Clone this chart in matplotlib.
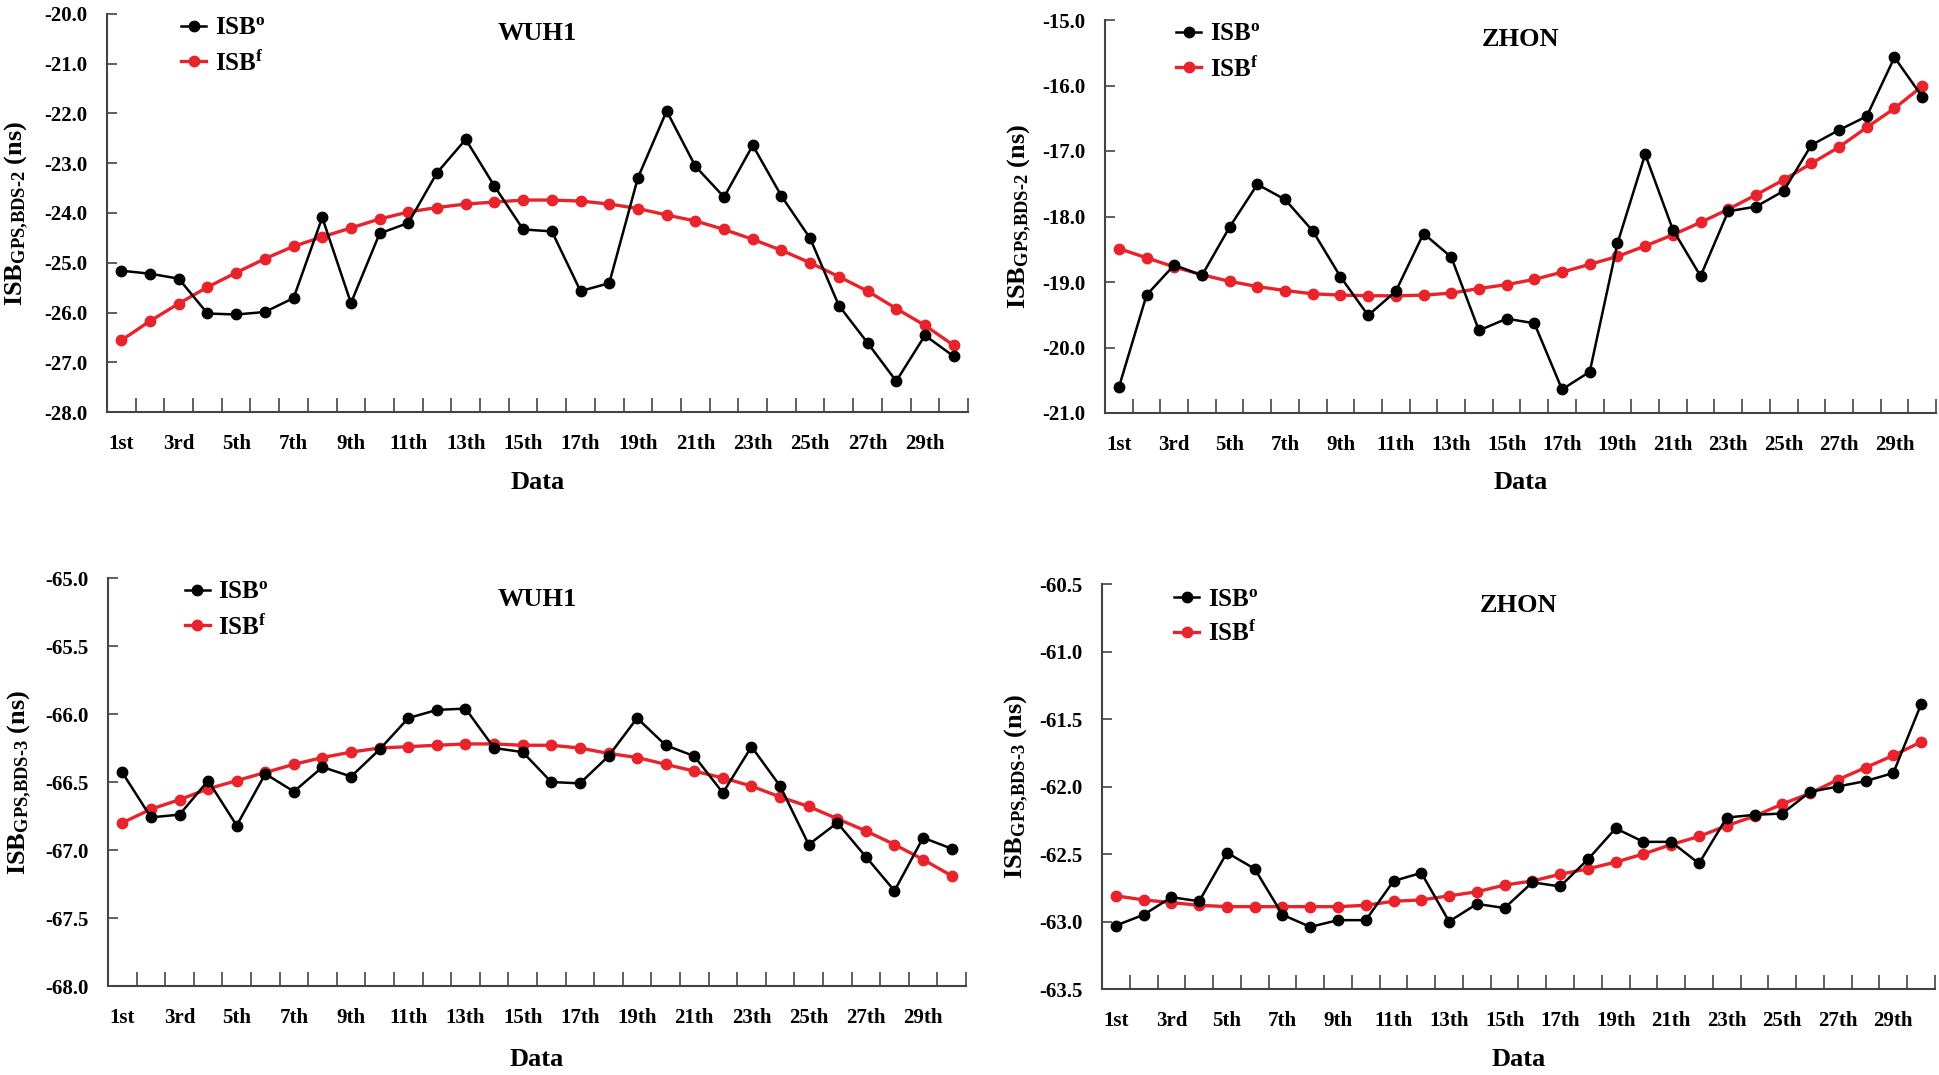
import numpy as np
import matplotlib
matplotlib.use("Agg")
import matplotlib.pyplot as plt

plt.rcParams['font.family'] = ['Liberation Serif', 'DejaVu Serif']
plt.rcParams['font.weight'] = 'bold'
plt.rcParams['mathtext.default'] = 'regular'

W, H = 1940, 1075

days = np.arange(1, 31)
# 原图标注为 21th / 23th
day_labels = ['1st', '3rd', '5th', '7th', '9th', '11th', '13th', '15th',
              '17th', '19th', '21th', '23th', '25th', '27th', '29th']

# WUH1, GPS-BDS-2
wuh1_b2_obs = [-25.16, -25.22, -25.32, -26.02, -26.04, -25.99, -25.71, -24.09, -25.81, -24.41,
               -24.20, -23.19, -22.52, -23.46, -24.33, -24.37, -25.57, -25.41, -23.29, -21.95,
               -23.06, -23.68, -22.64, -23.66, -24.51, -25.86, -26.61, -27.38, -26.46, -26.88]
wuh1_b2_fit = [-26.56, -26.17, -25.82, -25.49, -25.20, -24.92, -24.67, -24.48, -24.30, -24.12,
               -23.98, -23.89, -23.82, -23.78, -23.74, -23.74, -23.76, -23.82, -23.91, -24.04,
               -24.16, -24.33, -24.53, -24.75, -25.00, -25.28, -25.57, -25.92, -26.26, -26.66]

# ZHON, GPS-BDS-2
zhon_b2_obs = [-20.61, -19.20, -18.74, -18.90, -18.16, -17.51, -17.74, -18.22, -18.92, -19.51,
               -19.14, -18.26, -18.62, -19.74, -19.56, -19.63, -20.64, -20.37, -18.41, -17.05,
               -18.20, -18.91, -17.92, -17.85, -17.61, -16.91, -16.68, -16.47, -15.57, -16.17]
zhon_b2_fit = [-18.49, -18.63, -18.77, -18.89, -18.99, -19.07, -19.13, -19.18, -19.20, -19.21,
               -19.21, -19.20, -19.17, -19.10, -19.04, -18.96, -18.85, -18.73, -18.61, -18.45,
               -18.28, -18.09, -17.89, -17.67, -17.44, -17.19, -16.94, -16.64, -16.35, -16.01]

# WUH1, GPS-BDS-3
wuh1_b3_obs = [-66.43, -66.76, -66.74, -66.49, -66.82, -66.44, -66.57, -66.39, -66.46, -66.26,
               -66.03, -65.97, -65.96, -66.25, -66.28, -66.50, -66.51, -66.31, -66.03, -66.23,
               -66.31, -66.58, -66.24, -66.53, -66.96, -66.80, -67.05, -67.30, -66.91, -66.99]
wuh1_b3_fit = [-66.80, -66.70, -66.63, -66.55, -66.49, -66.43, -66.37, -66.32, -66.28, -66.25,
               -66.24, -66.23, -66.22, -66.22, -66.23, -66.23, -66.25, -66.29, -66.32, -66.37,
               -66.42, -66.47, -66.53, -66.61, -66.68, -66.77, -66.86, -66.96, -67.07, -67.19]

# ZHON, GPS-BDS-3
zhon_b3_obs = [-63.03, -62.95, -62.82, -62.85, -62.49, -62.61, -62.95, -63.04, -62.99, -62.99,
               -62.70, -62.64, -63.00, -62.87, -62.90, -62.71, -62.74, -62.54, -62.31, -62.41,
               -62.41, -62.57, -62.23, -62.21, -62.20, -62.04, -62.00, -61.96, -61.90, -61.39]
zhon_b3_fit = [-62.81, -62.84, -62.86, -62.88, -62.89, -62.89, -62.89, -62.89, -62.89, -62.88,
               -62.85, -62.84, -62.81, -62.78, -62.73, -62.70, -62.65, -62.61, -62.56, -62.50,
               -62.43, -62.37, -62.29, -62.22, -62.13, -62.05, -61.95, -61.86, -61.77, -61.67]

RED = '#e8232b'

fig = plt.figure(figsize=(W / 100, H / 100), dpi=100)


def px_ax(l, r, t, b):
    return [l / W, 1 - b / H, (r - l) / W, (b - t) / H]


def draw_panel(rect, obs, fit, ylim, yticks, station, ylab, ylab_x, leg_xy, title_y, xlab_y):
    ax = fig.add_axes(px_ax(*rect))
    ax.plot(days, obs, color='black', lw=1.8, marker='o', ms=7.5, label=r'ISB$^{o}$', zorder=3)
    ax.plot(days, fit, color=RED, lw=2.4, marker='o', ms=7.5, label=r'ISB$^{f}$', zorder=2)
    ax.set_xlim(0.5, 30.5)
    ax.set_ylim(*ylim)
    ax.set_yticks(yticks)
    ax.set_yticklabels(['%.1f' % v for v in yticks], fontsize=15)
    ax.set_xticks(days[::2])
    ax.set_xticklabels(day_labels, fontsize=15)
    ax.set_xticks(np.arange(1.5, 31, 1), minor=True)
    ax.tick_params(axis='x', which='major', length=0, pad=16)
    ax.tick_params(axis='x', which='minor', direction='in', length=10, width=1.2, color='#444444')
    ax.tick_params(axis='y', direction='in', length=7, width=1.2, color='#444444', pad=14)
    for s in ['top', 'right']:
        ax.spines[s].set_visible(False)
    for s in ['left', 'bottom']:
        ax.spines[s].set_color('#444444')
        ax.spines[s].set_linewidth(1.5)

    l, r, t, b = rect
    cx = (l + r) / 2
    fig.text(cx / W, 1 - title_y / H, station, fontsize=19, ha='center', va='center')
    fig.text(cx / W, 1 - xlab_y / H, 'Data', fontsize=19, ha='center', va='center')
    fig.text(ylab_x / W, 1 - ((t + b) / 2) / H, ylab, fontsize=19, rotation=90,
             ha='center', va='center')
    ax.legend(loc='upper left', bbox_to_anchor=(leg_xy[0] / W, 1 - leg_xy[1] / H),
              bbox_transform=fig.transFigure, frameon=False, fontsize=18,
              handlelength=1.0, handletextpad=0.35, labelspacing=0.4,
              borderpad=0, markerscale=1.0)
    return ax


lab2 = 'ISB$_{\\mathregular{GPS{,}BDS\u20102}}$ (ns)'
lab3 = 'ISB$_{\\mathregular{GPS{,}BDS\u20103}}$ (ns)'

draw_panel((107, 968, 14, 412), wuh1_b2_obs, wuh1_b2_fit, (-28.0, -20.0),
           np.arange(-28.0, -19.9, 1.0), 'WUH1', lab2, 17, (169, 4), 34, 483)
draw_panel((1105, 1936, 20, 413), zhon_b2_obs, zhon_b2_fit, (-21.0, -15.0),
           np.arange(-21.0, -14.9, 1.0), 'ZHON', lab2, 1020, (1164, 10), 39, 483)
draw_panel((108, 966, 578, 986), wuh1_b3_obs, wuh1_b3_fit, (-68.0, -65.0),
           np.arange(-68.0, -64.9, 0.5), 'WUH1', lab3, 20, (172, 568), 599, 1060)
draw_panel((1102, 1935, 584, 989), zhon_b3_obs, zhon_b3_fit, (-63.5, -60.5),
           np.arange(-63.5, -60.4, 0.5), 'ZHON', lab3, 1017, (1162, 575), 606, 1060)

fig.savefig('out.png', dpi=100, facecolor='white')
